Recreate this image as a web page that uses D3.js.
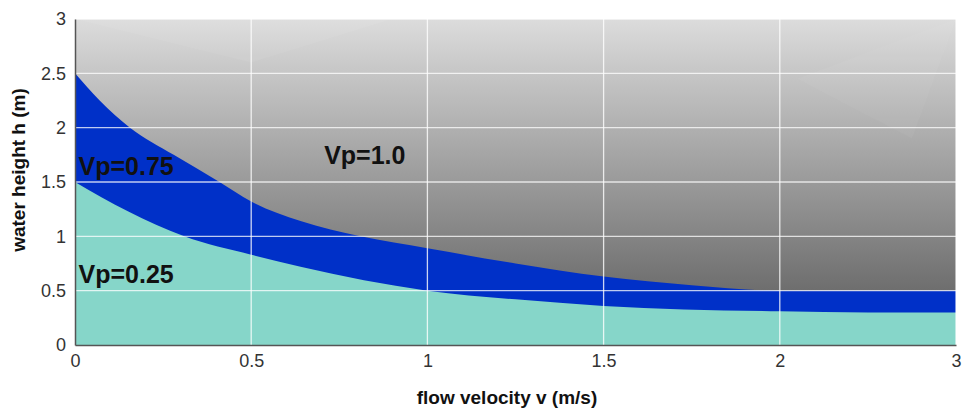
<!DOCTYPE html>
<html>
<head>
<meta charset="utf-8">
<script src="https://cdn.jsdelivr.net/npm/d3@7"></script>
<style>
  body { margin: 0; background: #fff; }
  text { font-family: "Liberation Sans", Arial, sans-serif; }
</style>
</head>
<body>
<div id="chart"></div>
<script>
// flow velocity (m/s) and water height (m) for the two boundaries
const upperV = [0, 0.07, 0.156, 0.28, 0.41, 0.5, 0.64, 0.81, 1, 1.25, 1.5, 1.75, 2, 2.5, 3];
const upperH = [2.5, 2.25, 2.0, 1.75, 1.5, 1.32, 1.14, 1.0, 0.89, 0.75, 0.63, 0.55, 0.5, 0.5, 0.5];
const lowerV = [0, 0.15, 0.31, 0.5, 0.64, 1, 1.25, 1.5, 2, 2.5, 3];
const lowerH = [1.5, 1.23, 1.0, 0.83, 0.72, 0.5, 0.42, 0.36, 0.31, 0.3, 0.3];
const xTicks = [0, 0.5, 1, 1.5, 2, 3];
const yTicks = [0, 0.5, 1, 1.5, 2, 2.5, 3];
const labels = [
  {text: 'Vp=0.75', v: 0.01, h: 1.56},
  {text: 'Vp=0.25', v: 0.01, h: 0.57},
  {text: 'Vp=1.0', v: 0.707, h: 1.67}
];

const w = 963, h = 412,
    m = {left: 75, right: 7, top: 19, bottom: 67},
    Mw = w - m.left - m.right,
    Mh = h - m.top - m.bottom;

let svg = d3.select('#chart').append('svg')
    .attr('width', w).attr('height', h);

let g = svg.append('g').attr('transform', `translate(${m.left},${m.top})`);

// ticks are evenly spaced even though the last step is 1 instead of 0.5
const x = d3.scaleLinear()
    .domain(xTicks)
    .range(xTicks.map((d, i) => i * Mw / (xTicks.length - 1)));
const y = d3.scaleLinear().domain([0, 3]).range([Mh, 0]);

let grad = svg.append('defs').append('linearGradient')
    .attr('id', 'bg').attr('x1', 0).attr('y1', 0).attr('x2', 0).attr('y2', 1);
grad.append('stop').attr('offset', 0).attr('stop-color', '#dcdcdc');
grad.append('stop').attr('offset', 1).attr('stop-color', '#585858');

g.append('rect')
    .attr('width', Mw).attr('height', Mh)
    .attr('fill', 'url(#bg)');

// faint highlight streaks
g.append('path')
    .attr('d', `M${x(0)},${y(3)} L${x(0.9)},${y(3)} L${x(0.5)},${y(2.6)} Z`)
    .attr('fill', '#fff').attr('opacity', 0.06);
g.append('path')
    .attr('d', `M${x(3)},${y(3)} L${x(2.1)},${y(2.45)} L${x(2.75)},${y(1.9)} Z`)
    .attr('fill', '#fff').attr('opacity', 0.04);

let upper = upperV.map((v, i) => [v, upperH[i]]);
let lower = lowerV.map((v, i) => [v, lowerH[i]]);

let area = d3.area()
    .x(d => x(d[0]))
    .y0(y(0))
    .y1(d => y(d[1]))
    .curve(d3.curveMonotoneX);

g.append('path').datum(upper).attr('d', area).attr('fill', '#0030c8');
g.append('path').datum(lower).attr('d', area).attr('fill', '#86d6c9');

// grid
g.selectAll('.vgrid').data(xTicks.filter(t => t > 0)).enter()
    .append('line')
    .attr('x1', d => x(d)).attr('x2', d => x(d))
    .attr('y1', 0).attr('y2', Mh)
    .attr('stroke', '#fff').attr('stroke-opacity', 0.8).attr('stroke-width', 1.3);
g.selectAll('.hgrid').data(yTicks.filter(t => t > 0)).enter()
    .append('line')
    .attr('x1', 0).attr('x2', Mw)
    .attr('y1', d => y(d)).attr('y2', d => y(d))
    .attr('stroke', '#fff').attr('stroke-opacity', 0.75).attr('stroke-width', 1.3);

// axes
let xAxis = g.append('g').attr('transform', `translate(0,${Mh})`)
    .call(d3.axisBottom(x).tickValues(xTicks).tickSize(0).tickPadding(9).tickFormat(d3.format('')));
let yAxis = g.append('g')
    .call(d3.axisLeft(y).tickValues(yTicks).tickSize(0).tickPadding(9).tickFormat(d3.format('')));
[xAxis, yAxis].forEach(a => {
    a.select('.domain').attr('stroke', '#555').attr('stroke-width', 1.5);
    a.selectAll('text').attr('font-size', 18).attr('fill', '#333')
        .style('font-family', '"Liberation Sans", Arial, sans-serif');
});

g.selectAll('.lbl').data(labels).enter()
    .append('text')
    .attr('x', d => x(d.v)).attr('y', d => y(d.h))
    .attr('font-size', 25).attr('font-weight', 'bold').attr('fill', '#111')
    .text(d => d.text);

svg.append('text')
    .attr('x', 507).attr('y', 404)
    .attr('text-anchor', 'middle')
    .attr('font-size', 19).attr('font-weight', 'bold').attr('fill', '#111')
    .text('flow velocity v (m/s)');

svg.append('text')
    .attr('transform', `translate(25,170) rotate(-90)`)
    .attr('text-anchor', 'middle')
    .attr('font-size', 19).attr('font-weight', 'bold').attr('fill', '#111')
    .text('water height h (m)');
</script>
</body>
</html>
